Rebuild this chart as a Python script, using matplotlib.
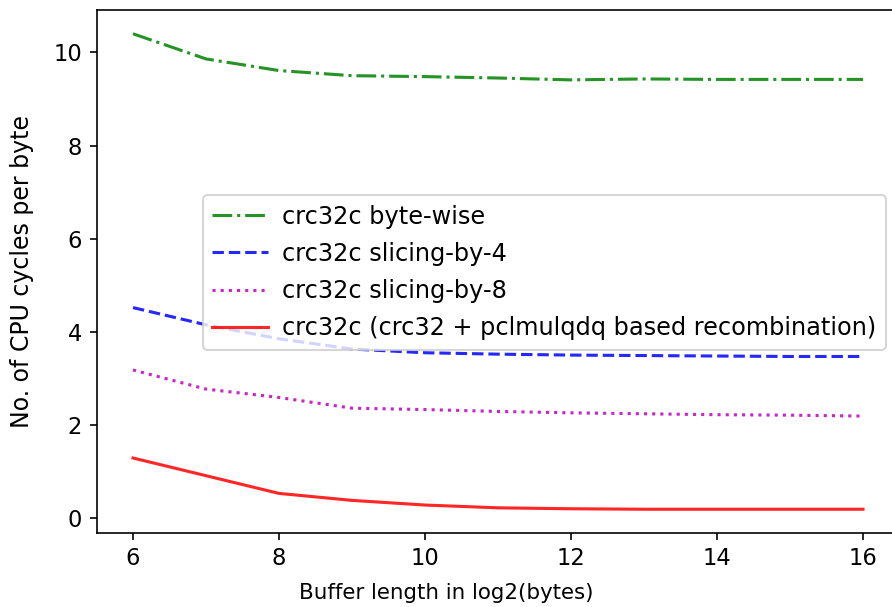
import matplotlib
matplotlib.use("Agg")
import matplotlib.pyplot as plt

x_log2 = [6, 7, 8, 9, 10, 11, 12, 13, 14, 15, 16]
byte_wise = [10.40, 9.86, 9.61, 9.50, 9.48, 9.45, 9.41, 9.43, 9.42, 9.42, 9.42]
slicing_by_4 = [4.52, 4.15, 3.85, 3.63, 3.55, 3.52, 3.50, 3.49, 3.48, 3.47, 3.47]
slicing_by_8 = [3.18, 2.77, 2.59, 2.36, 2.33, 2.29, 2.26, 2.24, 2.22, 2.21, 2.19]
recombination = [1.29, 0.91, 0.53, 0.38, 0.28, 0.22, 0.20, 0.19, 0.19, 0.19, 0.19]

labels = ["crc32c byte-wise", "crc32c slicing-by-4", "crc32c slicing-by-8",
          "crc32c (crc32 + pclmulqdq based recombination)"]

DPI = 148
fig = plt.figure(figsize=(892 / DPI, 607 / DPI), dpi=DPI)
W, H = 892, 607
left, right, top, bottom = 96.5, 899.5, 10, 533
ax = fig.add_axes([left / W, (H - bottom) / H, (right - left) / W, (bottom - top) / H])

ax.plot(x_log2, byte_wise, color="g", linestyle="-.", alpha=0.85, label=labels[0])
ax.plot(x_log2, slicing_by_4, color="b", linestyle="--", alpha=0.85, label=labels[1])
ax.plot(x_log2, slicing_by_8, color="m", linestyle=":", alpha=0.85, label=labels[2])
ax.plot(x_log2, recombination, color="r", linestyle="-", alpha=0.85, label=labels[3])

ax.set_xlabel("Buffer length in log2(bytes)", fontsize=10.4, va="center")
ax.xaxis.set_label_coords((446 - left) / (right - left), (bottom - 593) / (bottom - top))
ax.set_ylabel("No. of CPU cycles per byte", fontsize=11.5, va="center")
ax.yaxis.set_label_coords((22 - left) / (right - left), 0.5)
ax.set_xticks([6, 8, 10, 12, 14, 16])
ax.set_yticks([0, 2, 4, 6, 8, 10])
ax.tick_params(labelsize=11)

leg = ax.legend(loc="upper right", fontsize=11.7, labelspacing=0.55,
                handlelength=2.3, handletextpad=0.6,
                bbox_to_anchor=((886 - left) / (right - left), (bottom - 195) / (bottom - top)),
                borderaxespad=0)

fig.savefig("out.png", dpi=DPI)
